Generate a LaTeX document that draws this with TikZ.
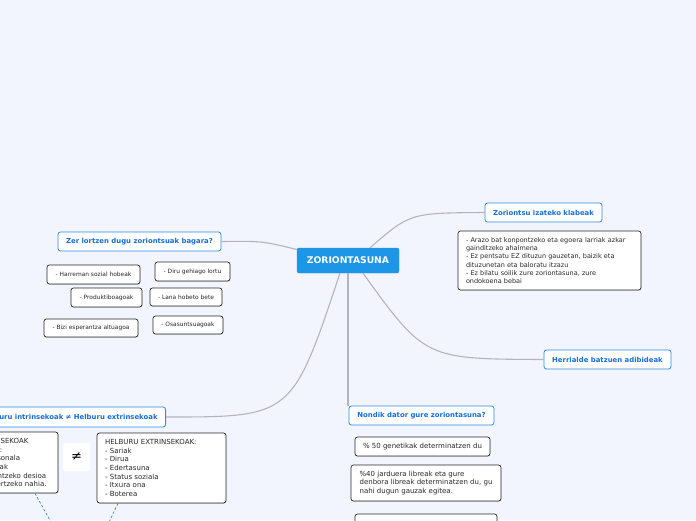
\documentclass[tikz,border=0pt]{standalone}
\usepackage{fontspec}
\setmainfont{DejaVu Sans}
\usetikzlibrary{shadows}
\definecolor{bgc}{RGB}{243,245,254}
\definecolor{topicblue}{RGB}{30,150,232}
\definecolor{topicborder}{RGB}{45,140,230}
\definecolor{topictext}{RGB}{22,110,215}
\definecolor{leafborder}{RGB}{40,40,40}
\definecolor{linkgray}{RGB}{180,180,190}
\definecolor{dashblue}{RGB}{70,140,215}
\definecolor{txt}{RGB}{40,40,40}
\tikzset{
  central/.style={fill=topicblue, draw=topicblue, rounded corners=2pt, text=white,
    font=\fontsize{9.2}{10}\selectfont\bfseries, inner sep=0pt},
  topic/.style={fill=white, draw=topicborder, line width=0.8pt, rounded corners=2.5pt,
    text=topictext, font=\fontsize{6.9}{8}\selectfont\bfseries, inner sep=0pt, minimum height=19pt},
  leaf/.style={fill=white, draw=leafborder, line width=0.7pt, rounded corners=2.5pt,
    text=txt, font=\fontsize{5.9}{7}\selectfont, inner sep=0pt,
    drop shadow={opacity=0.25, shadow xshift=0.4pt, shadow yshift=-0.8pt}},
  note/.style={fill=white, draw=leafborder, line width=0.7pt, rounded corners=2.5pt,
    text=txt, inner ysep=0pt, inner xsep=8pt, align=left,
    drop shadow={opacity=0.25, shadow xshift=0.4pt, shadow yshift=-0.8pt}},
  link/.style={draw=linkgray, line width=1.1pt},
  dlink/.style={draw=dashblue, line width=0.8pt, dashed, dash pattern=on 2.5pt off 2pt},
}
\begin{document}
\begin{tikzpicture}[x=1pt,y=-1pt]
\useasboundingbox[fill=bgc] (0,0) rectangle (696,520);

% central
\node[central, minimum width=102pt, minimum height=25pt] (c) at (348,260.5) {ZORIONTASUNA};

% main topics
\node[topic, minimum width=163pt] (zer) at (139.5,241.5) {Zer lortzen dugu zoriontsuak bagara?};
\node[topic, minimum width=117pt] (klab) at (543.5,212.5) {Zoriontsu izateko klabeak};
\node[topic, minimum width=127pt] (herr) at (607.5,359.5) {Herrialde batzuen adibideak};
\node[topic, inner xsep=8pt, minimum height=20pt, anchor=east] (helb) at (166,417) {Helburu intrinsekoak ≠ Helburu extrinsekoak};
\node[topic, minimum width=145pt] (nond) at (421.5,415.5) {Nondik dator gure zoriontasuna?};

% connectors
\draw[link] ([yshift=11pt]c.west) .. controls (262,241) .. (zer.east);
\draw[link] ([xshift=22pt]c.north) .. controls (410,213) .. (klab.west);
\draw[link] ([xshift=15pt]c.south) .. controls (425,359) .. (herr.west);
\draw[link] ([xshift=-8pt]c.south) .. controls (292,417) .. (helb.east);
\draw[link] (c.south) -- (c.south |- nond.north);

% leaves of "Zer lortzen"
\node[leaf, minimum width=93pt, minimum height=19pt] (l1) at (93.5,274.5) {- Harreman sozial hobeak};
\node[leaf, minimum width=75pt, minimum height=19pt] (l2) at (192.5,271.5) {- Diru gehiago lortu};
\node[leaf, minimum width=71pt, minimum height=19pt] (l3) at (106.5,297.5) {- Produktiboagoak};
\node[leaf, minimum width=72pt, minimum height=18pt] (l4) at (186,297) {- Lana hobeto bete};
\node[leaf, minimum width=94pt, minimum height=18pt] (l5) at (91,328) {- Bizi esperantza altuagoa};
\node[leaf, minimum width=70pt, minimum height=18pt] (l6) at (188,325) {- Osasuntsuagoak};

% klabeak note
\node[note, text width=167pt, minimum height=59pt, font=\fontsize{6.5}{8.2}\selectfont] (kn) at (549.5,260.5)
 {- Arazo bat konpontzeko eta egoera larriak azkar\\
  gainditzeko ahalmena\\
  - Ez pentsatu EZ dituzun gauzetan, baizik eta\\
  dituzunetan eta baloratu itzazu\\
  - Ez bilatu soilik zure zoriontasuna, zure\\
  ondokoena bebai};

% helburu notes
\node[note, text width=109pt, minimum height=61pt, font=\fontsize{7}{8.7}\selectfont] (intr) at (-4.5,462.5)
 {HELBURU INTRINSEKOAK\\
  HONAKOAK DIRA:\\
  - Hazkunde pertsonala\\
  - Harreman sanoak\\
  - Gizarteari laguntzeko desioa\\
  - Mundu osoa ikertzeko nahia.};
\node[fill=white, rounded corners=2pt, minimum width=27pt, minimum height=28pt, inner sep=0pt,
  font=\fontsize{13}{14}\selectfont, text=black] (neq) at (76.5,457) {≠};
\node[note, text width=113pt, minimum height=70pt, font=\fontsize{7}{8.6}\selectfont] (extr) at (161.5,468)
 {HELBURU EXTRINSEKOAK:\\
  - Sariak\\
  - Dirua\\
  - Edertasuna\\
  - Status soziala\\
  - Itxura ona\\
  - Boterea};

% nondik notes
\node[leaf, minimum width=135pt, minimum height=19pt, font=\fontsize{7}{8}\selectfont] (gen) at (422.5,446.5) {\% 50 genetikak determinatzen du};
\node[note, inner xsep=0pt, minimum width=150pt, minimum height=36pt, font=\fontsize{7}{8.6}\selectfont] (jard) at (426,483)
 {\%40 jarduera libreak eta gure\\
  denbora libreak determinatzen du, gu\\
  nahi dugun gauzak egitea.};
\node[note, minimum width=142pt, minimum height=32pt] (last) at (426,530) {};

% dashed connectors leaving the picture
\coordinate (d1) at (61,540);
\coordinate (d2) at (100.5,540);
\draw[dlink] ([xshift=39.5pt]intr.south) -- (d1);
\draw[dlink] ([xshift=-43.5pt]extr.south) -- (d2);
\end{tikzpicture}
\end{document}
